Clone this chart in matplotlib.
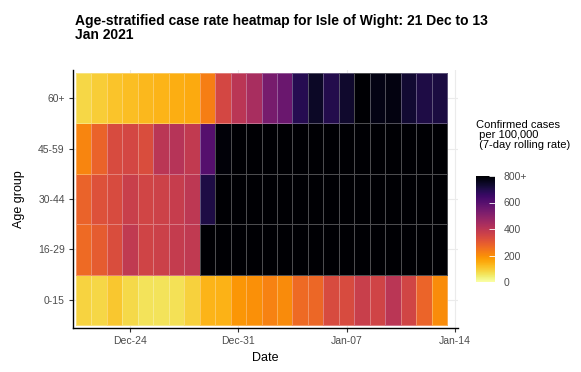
import numpy as np
import pandas as pd
import matplotlib
matplotlib.use('Agg')
import matplotlib.pyplot as plt
import matplotlib.dates as mdates
import matplotlib.colors as mcolors
import matplotlib.cm as cm

plt.rcParams['font.family'] = ['Liberation Sans', 'DejaVu Sans']

# data (7-day rolling rate per 100,000; >800 shown as 800+)
dates = pd.date_range('2020-12-21', '2021-01-13', freq='D')
age_groups = ['0-15', '16-29', '30-44', '45-59', '60+']

rate_0_15 = [85, 80, 105, 75, 60, 60, 65, 90, 135, 140, 185, 195,
             220, 205, 265, 270, 335, 335, 370, 355, 400, 350, 275, 200]
rate_16_29 = [265, 295, 330, 390, 355, 365, 380, 390, 880, 910, 940, 960,
              990, 1010, 1030, 1050, 1040, 1020, 1000, 980, 950, 930, 900, 880]
rate_30_44 = [280, 320, 335, 370, 350, 360, 375, 395, 705, 850, 890, 920,
              950, 970, 990, 1000, 990, 980, 960, 940, 920, 900, 880, 860]
rate_45_59 = [215, 280, 335, 345, 330, 400, 410, 385, 600, 790, 840, 870,
              900, 920, 940, 950, 945, 930, 910, 890, 870, 860, 850, 840]
rate_60 = [80, 95, 110, 120, 130, 135, 145, 150, 225, 345, 400, 440,
           535, 560, 690, 745, 695, 735, 820, 770, 775, 730, 705, 710]

cbar_ticks = [0, 200, 400, 600, 800]
cbar_labels = ['0', '200', '400', '600', '800+']

rates = np.array([rate_0_15, rate_16_29, rate_30_44, rate_45_59, rate_60])

fig = plt.figure(figsize=(5.81, 3.72), dpi=100)
ax = fig.add_axes([73 / 581, 44 / 372, 385 / 581, 258 / 372])

x_centers = mdates.date2num(dates)
x_edges = np.append(x_centers - 0.5, x_centers[-1] + 0.5)
y_edges = np.arange(len(age_groups) + 1) - 0.5

norm = mcolors.Normalize(vmin=0, vmax=800)
cmap = plt.get_cmap('inferno_r')
ax.set_axisbelow(True)
ax.grid(True, color='#EBEBEB', linewidth=0.8)
ax.pcolormesh(x_edges, y_edges, np.clip(rates, 0, 800), cmap=cmap, norm=norm,
              edgecolors=(1, 1, 1, 0.3), linewidth=0.6, zorder=2)

ax.set_xlim(x_centers[0] - 0.69, x_centers[-1] + 1.2)
ax.set_ylim(-0.56, len(age_groups) - 0.44)
ax.set_yticks(range(len(age_groups)))
ax.set_yticklabels(age_groups)
ax.xaxis.set_major_formatter(mdates.DateFormatter('%b-%d'))
ax.set_xticks(mdates.date2num(pd.to_datetime(['2020-12-24', '2020-12-31',
                                               '2021-01-07', '2021-01-14'])))

for side in ['top', 'right']:
    ax.spines[side].set_visible(False)
for side in ['left', 'bottom']:
    ax.spines[side].set_linewidth(1.0)
ax.tick_params(axis='both', labelsize=7.5, labelcolor='#4D4D4D', length=3,
               width=0.8, color='#333333', pad=3)

ax.set_xlabel('Date', fontsize=9.0, labelpad=4)
ax.set_ylabel('Age group', fontsize=9.0, labelpad=9)

fig.text(75 / 581, 1 - 14 / 372,
         'Age-stratified case rate heatmap for Isle of Wight: 21 Dec to 13\nJan 2021',
         fontsize=10, fontweight='bold', ha='left', va='top', linespacing=0.98)

# colour bar legend
fig.text(476 / 581, 1 - 120 / 372,
         'Confirmed cases\n per 100,000\n (7-day rolling rate)',
         fontsize=8.0, ha='left', va='top', linespacing=1.0)
cax = fig.add_axes([476 / 581, 90 / 372, 19 / 581, 106 / 372])
cb = fig.colorbar(cm.ScalarMappable(norm=norm, cmap=cmap), cax=cax, ticks=cbar_ticks)
cb.outline.set_visible(False)
cb.ax.set_yticklabels(cbar_labels)
cb.ax.tick_params(labelsize=7.5, labelcolor='#4D4D4D', direction='in',
                  color='white', length=4, width=0.6, pad=6)

fig.savefig('out.png', dpi=100, facecolor='white')
